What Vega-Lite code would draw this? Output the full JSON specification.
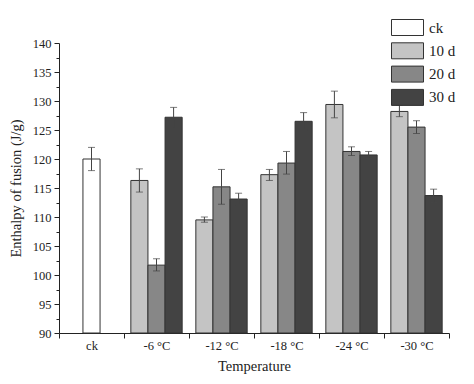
{
  "$schema": "https://vega.github.io/schema/vega-lite/v6.json",
  "width": 390,
  "height": 290,
  "autosize": "none",
  "padding": {"left": 59, "top": 43, "right": 25, "bottom": 51},
  "background": "white",
  "config": {
    "view": {"stroke": null},
    "font": "Liberation Serif"
  },
  "data": {
    "values": [
      {"temp": "ck", "series": "ck", "slot": "b", "value": 120.0, "lo": 118.0, "hi": 122.0},
      {"temp": "-6 °C", "series": "10 d", "slot": "a", "value": 116.3, "lo": 114.3, "hi": 118.3},
      {"temp": "-6 °C", "series": "20 d", "slot": "b", "value": 101.7, "lo": 100.7, "hi": 102.8},
      {"temp": "-6 °C", "series": "30 d", "slot": "c", "value": 127.2, "lo": 125.5, "hi": 128.9},
      {"temp": "-12 °C", "series": "10 d", "slot": "a", "value": 109.5, "lo": 109.1, "hi": 110.0},
      {"temp": "-12 °C", "series": "20 d", "slot": "b", "value": 115.2, "lo": 112.2, "hi": 118.2},
      {"temp": "-12 °C", "series": "30 d", "slot": "c", "value": 113.1, "lo": 112.1, "hi": 114.1},
      {"temp": "-18 °C", "series": "10 d", "slot": "a", "value": 117.3, "lo": 116.3, "hi": 118.2},
      {"temp": "-18 °C", "series": "20 d", "slot": "b", "value": 119.3, "lo": 117.4, "hi": 121.3},
      {"temp": "-18 °C", "series": "30 d", "slot": "c", "value": 126.5, "lo": 125.0, "hi": 128.0},
      {"temp": "-24 °C", "series": "10 d", "slot": "a", "value": 129.4, "lo": 127.1, "hi": 131.7},
      {"temp": "-24 °C", "series": "20 d", "slot": "b", "value": 121.3, "lo": 120.6, "hi": 122.1},
      {"temp": "-24 °C", "series": "30 d", "slot": "c", "value": 120.7, "lo": 120.1, "hi": 121.3},
      {"temp": "-30 °C", "series": "10 d", "slot": "a", "value": 128.2, "lo": 127.3, "hi": 129.3},
      {"temp": "-30 °C", "series": "20 d", "slot": "b", "value": 125.5, "lo": 124.4, "hi": 126.6},
      {"temp": "-30 °C", "series": "30 d", "slot": "c", "value": 113.7, "lo": 112.5, "hi": 114.8}
    ]
  },
  "resolve": {"axis": {"y": "independent"}},
  "encoding": {
    "x": {
      "field": "temp",
      "type": "nominal",
      "sort": ["ck", "-6 °C", "-12 °C", "-18 °C", "-24 °C", "-30 °C"],
      "scale": {"paddingInner": 0, "paddingOuter": 0},
      "axis": {
        "title": "Temperature",
        "labelAngle": 0,
        "tickBand": "extent",
        "tickSize": 5,
        "tickColor": "#222",
        "domainColor": "#222",
        "labelFont": "Liberation Serif",
        "labelFontSize": 12.5,
        "labelColor": "#222",
        "labelPadding": 1,
        "titleFont": "Liberation Serif",
        "titleFontSize": 14.5,
        "titleFontWeight": "normal",
        "titleColor": "#222",
        "titlePadding": 8
      }
    },
    "xOffset": {
      "field": "slot",
      "type": "nominal",
      "scale": {"domain": ["a", "b", "c"], "paddingInner": 0, "paddingOuter": 0.4}
    }
  },
  "layer": [
    {
      "mark": {"type": "bar", "stroke": "#333", "strokeWidth": 1},
      "encoding": {
        "y": {
          "field": "value",
          "type": "quantitative",
          "scale": {"domain": [90, 140], "nice": false, "zero": false},
          "axis": {
            "orient": "left",
            "title": "Enthalpy of fusion (J/g)",
            "grid": false,
            "values": [90, 95, 100, 105, 110, 115, 120, 125, 130, 135, 140],
            "labelOverlap": false,
            "tickSize": 5,
            "tickColor": "#222",
            "domainColor": "#222",
            "labelFont": "Liberation Serif",
            "labelFontSize": 12.5,
            "labelColor": "#222",
            "labelPadding": 3,
            "titleFont": "Liberation Serif",
            "titleFontSize": 14.5,
            "titleFontWeight": "normal",
            "titleColor": "#222",
            "titlePadding": 9
          }
        },
        "y2": {"datum": 90},
        "color": {
          "field": "series",
          "type": "nominal",
          "scale": {
            "domain": ["ck", "10 d", "20 d", "30 d"],
            "range": ["#ffffff", "#c4c4c4", "#878787", "#434343"]
          },
          "legend": {
            "title": null,
            "orient": "none",
            "legendX": 340,
            "legendY": -24,
            "padding": 0,
            "symbolType": "M-2,-1L2,-1L2,1L-2,1Z",
            "symbolSize": 256,
            "symbolStrokeColor": "#333",
            "symbolStrokeWidth": 1,
            "symbolOpacity": 1,
            "rowPadding": 2.3,
            "labelFont": "Liberation Serif",
            "labelFontSize": 15,
            "labelColor": "#222",
            "labelOffset": 13
          }
        }
      }
    },
    {
      "mark": {"type": "rule", "color": "#444", "strokeWidth": 1},
      "encoding": {
        "y": {
          "field": "lo",
          "type": "quantitative",
          "axis": {
            "orient": "left",
            "title": null,
            "grid": false,
            "labels": false,
            "domain": false,
            "values": [92.5, 97.5, 102.5, 107.5, 112.5, 117.5, 122.5, 127.5, 132.5, 137.5],
            "tickSize": 3,
            "tickColor": "#222"
          }
        },
        "y2": {"field": "hi"}
      }
    },
    {
      "mark": {"type": "tick", "color": "#444", "size": 7, "thickness": 1, "orient": "horizontal"},
      "encoding": {
        "y": {"field": "lo", "type": "quantitative", "axis": null}
      }
    },
    {
      "mark": {"type": "tick", "color": "#444", "size": 7, "thickness": 1, "orient": "horizontal"},
      "encoding": {
        "y": {"field": "hi", "type": "quantitative", "axis": null}
      }
    }
  ]
}
